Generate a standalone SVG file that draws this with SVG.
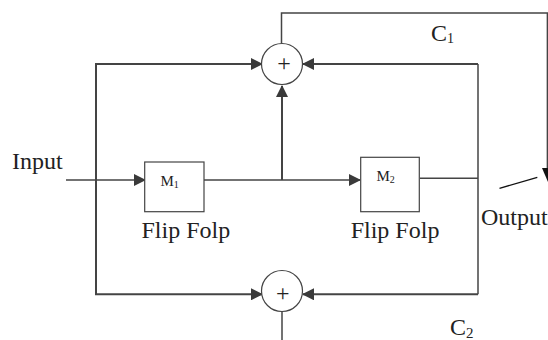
<svg xmlns="http://www.w3.org/2000/svg" width="548" height="340" viewBox="0 0 548 340">
<style>
.w{fill:none;stroke:#444;stroke-width:1.5}
.t{stroke-width:2}
.b{fill:#fff;stroke:#444;stroke-width:1.2}
.l{font-family:"Liberation Serif","Times New Roman",serif;fill:#222;font-size:24px}
.s{font-size:15px}
.u{font-size:10px}
.h{fill:#3a3a3a}
</style>
<defs>
<marker id="a" markerUnits="userSpaceOnUse" markerWidth="12" markerHeight="12" refX="11" refY="6" orient="auto"><path class="h" d="M0,0L12,6L0,12z"/></marker>
</defs>
<g id="connectors">
<path class="w t" d="M96,64V294.3" />
<path class="w t" d="M95,64H262" marker-end="url(#a)"/>
<path class="w t" d="M95,294.3H262" marker-end="url(#a)"/>
<path class="w t" d="M478,64H303" marker-end="url(#a)"/>
<path class="w t" d="M478,294.3H303" marker-end="url(#a)"/>
<path class="w" d="M478,64V294.3"/>
<path class="w t" d="M282,180V86" marker-end="url(#a)"/>
<path class="w" d="M66,180H145" marker-end="url(#a)"/>
<path class="w" d="M203,180H360" marker-end="url(#a)"/>
<path class="w" d="M420,178.3H478"/>
<path class="w" d="M281.5,43V13H547.4V170"/>
<path d="M542,168H548V182z" fill="#111"/>
<path class="w" d="M282,312V340"/>
<path fill="none" stroke="#111" stroke-width="1.3" d="M499.5,188.3L537.3,177.3"/>
</g>
<g id="sum1"><circle class="b" cx="282" cy="64" r="20.5"/><text class="l" x="284" y="71" text-anchor="middle">+</text></g>
<g id="sum2"><circle class="b" cx="282" cy="291" r="20.5"/><text class="l" x="282.7" y="301" text-anchor="middle">+</text></g>
<g id="m1"><rect class="b" x="144.7" y="162" width="59.3" height="49.7"/><text class="l s" x="160.5" y="186">M<tspan class="u" dy="2">1</tspan></text></g>
<g id="m2"><rect class="b" x="360.7" y="157.3" width="58.6" height="54.4"/><text class="l s" x="376.5" y="181">M<tspan class="u" dy="2">2</tspan></text></g>
<g id="labels">
<text class="l" x="12" y="168.5">Input</text>
<text class="l" x="141.5" y="238">Flip Folp</text>
<text class="l" x="350.7" y="238">Flip Folp</text>
<text class="l" x="481" y="225">Output</text>
<text class="l" x="431" y="40.7">C<tspan font-size="14" dy="2">1</tspan></text>
<text class="l" x="450" y="335">C<tspan font-size="15" dy="2.5">2</tspan></text>
</g>
</svg>
